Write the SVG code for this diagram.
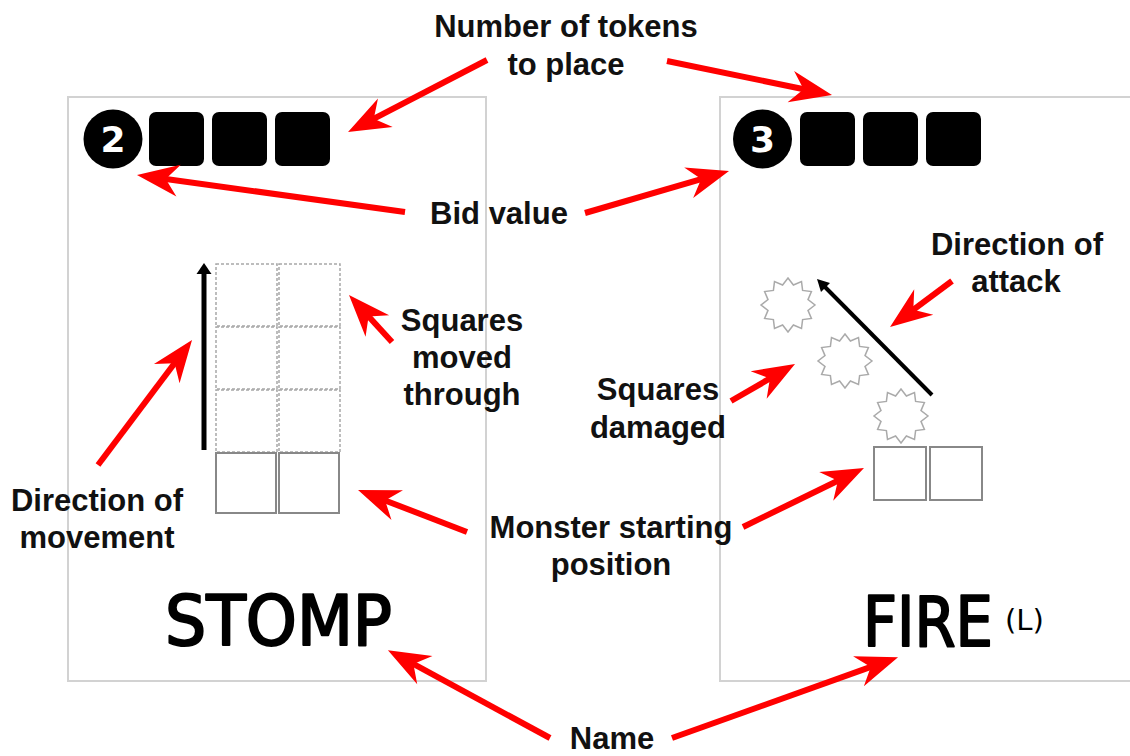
<svg xmlns="http://www.w3.org/2000/svg" width="1130" height="756" viewBox="0 0 1130 756">
<style>
.card{fill:#fff;stroke:#d2d2d2;stroke-width:2}
.tok{fill:#000}
.num{font-family:"DejaVu Sans",sans-serif;font-weight:bold;font-size:36px;fill:#fff;text-anchor:middle}
.dash{fill:none;stroke:#a8a8a8;stroke-width:1.5;stroke-dasharray:3 2}
.sq{fill:none;stroke:#888;stroke-width:2}
.star{fill:none;stroke:#aaa;stroke-width:1.5}
.name{font-family:"DejaVu Sans Condensed","DejaVu Sans",sans-serif;font-size:70px;fill:#000;stroke:#000;stroke-width:2;stroke-linejoin:round}
.lbl{font-family:"Liberation Sans",Arial,sans-serif;font-weight:bold;font-size:31px;fill:#111;text-anchor:middle}
.red{fill:none;stroke:#f00;stroke-width:6;marker-end:url(#rh)}
</style>
<defs>
<marker id="rh" markerUnits="userSpaceOnUse" viewBox="-25 -20 50 40" markerWidth="50" markerHeight="40" refX="0" refY="0" orient="auto" overflow="visible">
<path d="M20,0 L-22,-16 L-9,0 L-22,16 Z" fill="#f00"/>
</marker>
<polygon id="burst" points="27,0 20,5.4 23.4,13.5 14.6,14.6 13.5,23.4 5.4,20 0,27 -5.4,20 -13.5,23.4 -14.6,14.6 -23.4,13.5 -20,5.4 -27,0 -20,-5.4 -23.4,-13.5 -14.6,-14.6 -13.5,-23.4 -5.4,-20 0,-27 5.4,-20 13.5,-23.4 14.6,-14.6 23.4,-13.5 20,-5.4"/>
</defs>
<rect width="1130" height="756" fill="#fff"/>

<g id="card-stomp">
<rect class="card" x="68" y="97" width="418" height="584"/>
<circle cx="113" cy="139" r="29.5" fill="#000"/>
<text class="num" x="113" y="152">2</text>
<rect class="tok" x="149" y="112" width="55" height="54" rx="7"/>
<rect class="tok" x="212" y="112" width="55" height="54" rx="7"/>
<rect class="tok" x="275" y="112" width="55" height="54" rx="7"/>
<rect class="dash" x="216" y="264" width="61" height="62"/>
<rect class="dash" x="279" y="264" width="61" height="62"/>
<rect class="dash" x="216" y="327" width="61" height="62"/>
<rect class="dash" x="279" y="327" width="61" height="62"/>
<rect class="dash" x="216" y="390" width="61" height="62"/>
<rect class="dash" x="279" y="390" width="61" height="62"/>
<rect class="sq" x="216" y="453" width="60" height="60"/>
<rect class="sq" x="279" y="453" width="60" height="60"/>
<line x1="204" y1="450" x2="204" y2="272" stroke="#000" stroke-width="5"/>
<polygon points="204,263 196.5,274 211.5,274" fill="#000"/>
<text class="name" x="165" y="645" textLength="227" lengthAdjust="spacingAndGlyphs">STOMP</text>
</g>

<g id="card-fire">
<rect class="card" x="720" y="97" width="420" height="584"/>
<circle cx="762.5" cy="139" r="29.5" fill="#000"/>
<text class="num" x="762.5" y="152">3</text>
<rect class="tok" x="800" y="112" width="55" height="54" rx="7"/>
<rect class="tok" x="863" y="112" width="55" height="54" rx="7"/>
<rect class="tok" x="926" y="112" width="55" height="54" rx="7"/>
<use href="#burst" class="star" x="788" y="305"/>
<use href="#burst" class="star" x="845" y="361"/>
<use href="#burst" class="star" x="901" y="416"/>
<rect class="sq" x="874" y="447" width="52" height="53"/>
<rect class="sq" x="930" y="447" width="52" height="53"/>
<line x1="932" y1="395" x2="825" y2="287" stroke="#000" stroke-width="4"/>
<polygon points="817,279 830,283 821,292" fill="#000"/>
<text class="name" x="863" y="646" textLength="130" lengthAdjust="spacingAndGlyphs">FIRE</text>
<text x="1005" y="630" font-family="DejaVu Sans,sans-serif" font-size="29" fill="#000" textLength="39" lengthAdjust="spacingAndGlyphs">(L)</text>
</g>

<g id="labels">
<text class="lbl" x="566" y="37">Number of tokens</text>
<text class="lbl" x="566" y="75">to place</text>
<text class="lbl" x="499" y="224">Bid value</text>
<text class="lbl" x="462" y="331">Squares</text>
<text class="lbl" x="462" y="368">moved</text>
<text class="lbl" x="462" y="405">through</text>
<text class="lbl" x="97" y="511">Direction of</text>
<text class="lbl" x="97" y="548">movement</text>
<text class="lbl" x="611" y="538">Monster starting</text>
<text class="lbl" x="611" y="575">position</text>
<text class="lbl" x="612" y="749">Name</text>
<text class="lbl" x="1017" y="255">Direction of</text>
<text class="lbl" x="1016" y="292">attack</text>
<text class="lbl" x="658" y="400">Squares</text>
<text class="lbl" x="658" y="438">damaged</text>
</g>

<g id="connectors">
<path class="red" d="M487,60 L365.8,122.8"/>
<path class="red" d="M667,61 L812.4,91"/>
<path class="red" d="M405,212 L156.8,177.7"/>
<path class="red" d="M585,213 L709.8,176.6"/>
<path class="red" d="M98,465 L180,356"/>
<path class="red" d="M392,342 L362.5,309.8"/>
<path class="red" d="M467,532 L376.7,497.2"/>
<path class="red" d="M743,527 L846,476.8"/>
<path class="red" d="M550,738 L405.5,659.7"/>
<path class="red" d="M672,738 L879.2,663.9"/>
<path class="red" d="M952,281 L906.1,315.1"/>
<path class="red" d="M731,401 L777.7,374"/>
</g>
</svg>
